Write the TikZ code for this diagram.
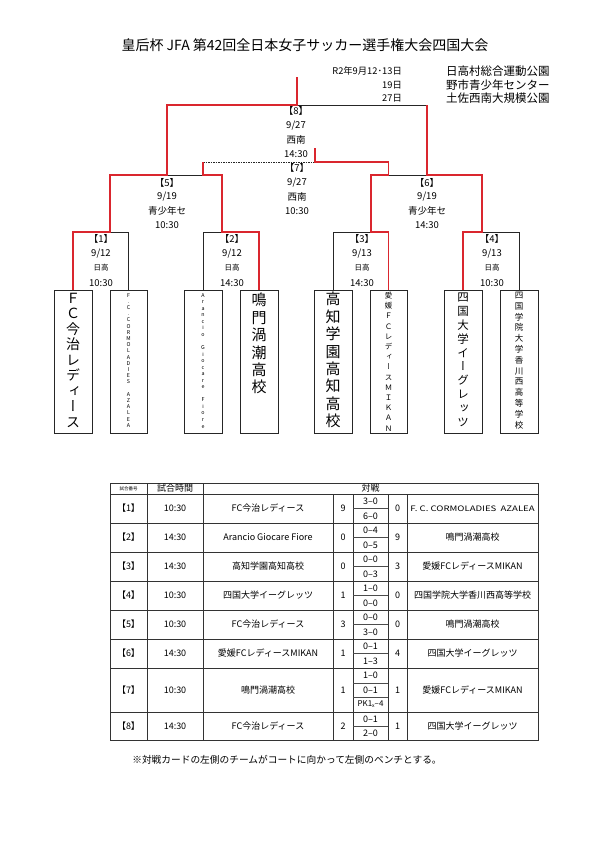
\documentclass[tikz,border=0pt]{standalone}
\usepackage{fontspec}
\setmainfont{Noto Sans CJK JP}
\newfontfamily\vfont[RawFeature=+vert]{Noto Sans CJK JP}
\definecolor{bred}{RGB}{218,38,46}
\newcommand\fs[2]{\fontsize{#1}{#2}\selectfont}
\begin{document}
\begin{tikzpicture}[x=1pt,y=-1pt,
  blk/.style={line width=0.8pt, draw=black!85},
  dsh/.style={line width=0.7pt, draw=black!85, dash pattern=on 1.5pt off 1pt},
  redl/.style={line width=1.7pt, draw=bred},
  teambox/.style={draw=black!85, line width=0.9pt, minimum width=#1, minimum height=143pt, inner sep=0pt},
  vtext/.style={anchor=north, inner sep=0pt, align=center},
  lbl/.style={font=\fs{9.5}{10}, inner sep=0pt},
  cell/.style={font=\fs{9}{10}, inner sep=0pt},
  venue/.style={font=\fs{11.5}{12}, inner sep=0pt, anchor=west},
  vday/.style={font=\fs{9.3}{12}, inner sep=0pt, anchor=east},
  grid/.style={line width=0.7pt, draw=black!80}]
\useasboundingbox[fill=white] (0,0) rectangle (595,841);

% title and venues
\node[font=\fs{14}{15}, inner sep=0pt] (title) at (305,45) {皇后杯 JFA 第42回全日本女子サッカー選手権大会四国大会};
\node[vday] (d1a) at (402,71) {R2年9月12･13日};
\node[venue] (d1b) at (446,71) {日高村総合運動公園};
\node[vday] (d2a) at (402,85) {19日};
\node[venue] (d2b) at (446,85) {野市青少年センター};
\node[vday] (d3a) at (402,98) {27日};
\node[venue] (d3b) at (446,98) {土佐西南大規模公園};

% team boxes
\node[teambox=38pt] (b1) at (73,361.5) {};
\node[teambox=37pt] (b2) at (128.5,361.5) {};
\node[teambox=38pt] (b3) at (203,361.5) {};
\node[teambox=38pt] (b4) at (259,361.5) {};
\node[teambox=38pt] (b5) at (333,361.5) {};
\node[teambox=37pt] (b6) at (388.5,361.5) {};
\node[teambox=38pt] (b7) at (463,361.5) {};
\node[teambox=38pt] (b8) at (519,361.5) {};

\node[vtext, font=\vfont\fs{14}{15.5}] (t1) at (73,293) {Ｆ\\Ｃ\\今\\治\\レ\\デ\\ィ\\ー\\ス};
\node[vtext, font=\fs{5.3}{6.2}] (t2) at (128.5,293) {F\\.\\C\\.\\C\\O\\R\\M\\O\\L\\A\\D\\I\\E\\S\\\mbox{}\\A\\Z\\A\\L\\E\\A};
\node[vtext, font=\fs{5.3}{6.55}] (t3) at (203,293) {A\\r\\a\\n\\c\\i\\o\\\mbox{}\\G\\i\\o\\c\\a\\r\\e\\\mbox{}\\F\\i\\o\\r\\e};
\node[vtext, font=\vfont\fs{15}{17.4}] (t4) at (259,293) {鳴\\門\\渦\\潮\\高\\校};
\node[vtext, font=\vfont\fs{15}{17.4}] (t5) at (333,292) {高\\知\\学\\園\\高\\知\\高\\校};
\node[vtext, font=\vfont\fs{7.5}{10.2}] (t6) at (388.5,292) {愛\\媛\\Ｆ\\Ｃ\\レ\\デ\\ィ\\ー\\ス\\Ｍ\\Ｉ\\Ｋ\\Ａ\\Ｎ};
\node[vtext, font=\vfont\fs{11.5}{13.8}] (t7) at (463,293) {四\\国\\大\\学\\イ\\ー\\グ\\レ\\ッ\\ツ};
\node[vtext, font=\vfont\fs{8.5}{10.8}] (t8) at (519,292) {四\\国\\学\\院\\大\\学\\香\\川\\西\\高\\等\\学\\校};

% bracket coordinates
\coordinate (top8) at (297,77);
\coordinate (j8) at (297,105);
\coordinate (L8) at (167,105);
\coordinate (R8) at (427,105);
\coordinate (j5) at (167,175);
\coordinate (L5) at (110,175);
\coordinate (R5) at (222,175);
\coordinate (m5) at (203,175);
\coordinate (j6) at (427,175);
\coordinate (L6) at (371,175);
\coordinate (R6) at (482,175);
\coordinate (m6) at (388.5,175);
\coordinate (d7L) at (203,162);
\coordinate (d7R) at (315,162);
\coordinate (c7) at (388.5,162);
\coordinate (top7) at (315,148);
\coordinate (j1) at (110,232);
\coordinate (L1) at (73,232);
\coordinate (R1) at (128.5,232);
\coordinate (j2) at (222,232);
\coordinate (L2) at (203,232);
\coordinate (R2) at (259,232);
\coordinate (j3) at (371,232);
\coordinate (L3) at (333,232);
\coordinate (R3) at (388.5,232);
\coordinate (j4) at (482,232);
\coordinate (L4) at (463,232);
\coordinate (R4) at (519,232);

% black (losing) lines
\draw[blk] (j8) -- (R8);
\draw[blk] (j5) -- (m5);
\draw[blk] (m6) -- (j6);
\draw[blk] (j1) -- (R1) -- (b2.north);
\draw[blk] (j2) -- (L2) -- (b3.north);
\draw[blk] (j3) -- (L3) -- (b5.north);
\draw[blk] (j4) -- (R4) -- (b8.north);
\draw[dsh] (d7L) -- (d7R);

% red (winning) lines
\draw[redl] (b1.north) -- (L1) -- (j1) -- (L5) -- (j5) -- (L8) -- (j8) -- (top8);
\draw[redl] (b4.north) -- (R2) -- (j2) -- (R5) -- (m5) -- (d7L);
\draw[redl] (b6.north) -- (R3) -- (j3) -- (L6) -- (m6) -- (c7) -- (d7R) -- (top7);
\draw[redl] (b7.north) -- (L4) -- (j4) -- (R6) -- (j6) -- (R8);

% match labels
\node[lbl] (g8a) at (296,111) {【8】};
\node[lbl] (g8b) at (296,126) {9/27};
\node[lbl] (g8c) at (296,140) {西南};
\node[lbl] (g8d) at (296,154) {14:30};
\node[lbl] (g7a) at (297,168) {【7】};
\node[lbl] (g7b) at (297,183) {9/27};
\node[lbl] (g7c) at (297,197) {西南};
\node[lbl] (g7d) at (297,211) {10:30};
\node[lbl] (g5a) at (167,183) {【5】};
\node[lbl] (g5b) at (167,197) {9/19};
\node[lbl] (g5c) at (167,211) {青少年セ};
\node[lbl] (g5d) at (167,225) {10:30};
\node[lbl] (g6a) at (427,183) {【6】};
\node[lbl] (g6b) at (427,197) {9/19};
\node[lbl] (g6c) at (427,211) {青少年セ};
\node[lbl] (g6d) at (427,225) {14:30};
\node[lbl] (g1a) at (101,239) {【1】};
\node[lbl] (g1b) at (101,254) {9/12};
\node[lbl, font=\fs{7.5}{8}] (g1c) at (101,268) {日高};
\node[lbl] (g1d) at (101,283) {10:30};
\node[lbl] (g2a) at (232,239) {【2】};
\node[lbl] (g2b) at (232,254) {9/12};
\node[lbl, font=\fs{7.5}{8}] (g2c) at (232,268) {日高};
\node[lbl] (g2d) at (232,283) {14:30};
\node[lbl] (g3a) at (362,239) {【3】};
\node[lbl] (g3b) at (362,254) {9/13};
\node[lbl, font=\fs{7.5}{8}] (g3c) at (362,268) {日高};
\node[lbl] (g3d) at (362,283) {14:30};
\node[lbl] (g4a) at (492,239) {【4】};
\node[lbl] (g4b) at (492,254) {9/13};
\node[lbl, font=\fs{7.5}{8}] (g4c) at (492,268) {日高};
\node[lbl] (g4d) at (492,283) {10:30};

% results table grid
\draw[grid] (110,483) rectangle (538,740);
\foreach \yy in {494,523,552,581,610,639,668,712} \draw[grid] (110,\yy) -- (538,\yy);
\foreach \xx in {147,203} \draw[grid] (\xx,483) -- (\xx,740);
\foreach \xx in {333,353,388,407} \draw[grid] (\xx,494) -- (\xx,740);
\foreach \yy in {508.5,537.5,566.5,595.5,624.5,653.5,683,697,726} \draw[line width=0.5pt, draw=black!70] (353,\yy) -- (388,\yy);

% header
\node[inner sep=0pt, font=\fs{4.5}{5}] (h1) at (128.5,488.5) {試合番号};
\node[cell] (h2) at (175,488.5) {試合時間};
\node[cell] (h3) at (370.5,488.5) {対戦};

% row 1
\node[cell] (r1a) at (128.5,508.5) {【1】};
\node[cell] (r1b) at (175,508.5) {10:30};
\node[cell] (r1c) at (268,508.5) {FC今治レディース};
\node[cell] (r1d) at (343,508.5) {9};
\node[cell] (r1e) at (370.5,501.3) {3–0};
\node[cell] (r1f) at (370.5,515.8) {6–0};
\node[cell] (r1g) at (397.5,508.5) {0};
\node[cell, font=\fs{7.5}{8}] (r1h) at (472.5,508.5) {\scalebox{1.28}[1]{F. C. CORMOLADIES\ \ AZALEA}};
% row 2
\node[cell] (r2a) at (128.5,537.5) {【2】};
\node[cell] (r2b) at (175,537.5) {14:30};
\node[cell] (r2c) at (268,537.5) {Arancio Giocare Fiore};
\node[cell] (r2d) at (343,537.5) {0};
\node[cell] (r2e) at (370.5,530.3) {0–4};
\node[cell] (r2f) at (370.5,544.8) {0–5};
\node[cell] (r2g) at (397.5,537.5) {9};
\node[cell] (r2h) at (472.5,537.5) {鳴門渦潮高校};
% row 3
\node[cell] (r3a) at (128.5,566.5) {【3】};
\node[cell] (r3b) at (175,566.5) {14:30};
\node[cell] (r3c) at (268,566.5) {高知学園高知高校};
\node[cell] (r3d) at (343,566.5) {0};
\node[cell] (r3e) at (370.5,559.3) {0–0};
\node[cell] (r3f) at (370.5,573.8) {0–3};
\node[cell] (r3g) at (397.5,566.5) {3};
\node[cell] (r3h) at (472.5,566.5) {愛媛FCレディースMIKAN};
% row 4
\node[cell] (r4a) at (128.5,595.5) {【4】};
\node[cell] (r4b) at (175,595.5) {10:30};
\node[cell] (r4c) at (268,595.5) {四国大学イーグレッツ};
\node[cell] (r4d) at (343,595.5) {1};
\node[cell] (r4e) at (370.5,588.3) {1–0};
\node[cell] (r4f) at (370.5,602.8) {0–0};
\node[cell] (r4g) at (397.5,595.5) {0};
\node[cell] (r4h) at (472.5,595.5) {四国学院大学香川西高等学校};
% row 5
\node[cell] (r5a) at (128.5,624.5) {【5】};
\node[cell] (r5b) at (175,624.5) {10:30};
\node[cell] (r5c) at (268,624.5) {FC今治レディース};
\node[cell] (r5d) at (343,624.5) {3};
\node[cell] (r5e) at (370.5,617.3) {0–0};
\node[cell] (r5f) at (370.5,631.8) {3–0};
\node[cell] (r5g) at (397.5,624.5) {0};
\node[cell] (r5h) at (472.5,624.5) {鳴門渦潮高校};
% row 6
\node[cell] (r6a) at (128.5,653.5) {【6】};
\node[cell] (r6b) at (175,653.5) {14:30};
\node[cell] (r6c) at (268,653.5) {愛媛FCレディースMIKAN};
\node[cell] (r6d) at (343,653.5) {1};
\node[cell] (r6e) at (370.5,646.3) {0–1};
\node[cell] (r6f) at (370.5,660.8) {1–3};
\node[cell] (r6g) at (397.5,653.5) {4};
\node[cell] (r6h) at (472.5,653.5) {四国大学イーグレッツ};
% row 7
\node[cell] (r7a) at (128.5,690) {【7】};
\node[cell] (r7b) at (175,690) {10:30};
\node[cell] (r7c) at (268,690) {鳴門渦潮高校};
\node[cell] (r7d) at (343,690) {1};
\node[cell] (r7e) at (370.5,675.5) {1–0};
\node[cell] (r7f) at (370.5,690) {0–1};
\node[cell, font=\fs{8}{9}] (r7g) at (370.5,704.5) {PK1\raisebox{-1pt}{\fs{5}{6}x}–4};
\node[cell] (r7h) at (397.5,690) {1};
\node[cell] (r7i) at (472.5,690) {愛媛FCレディースMIKAN};
% row 8
\node[cell] (r8a) at (128.5,726) {【8】};
\node[cell] (r8b) at (175,726) {14:30};
\node[cell] (r8c) at (268,726) {FC今治レディース};
\node[cell] (r8d) at (343,726) {2};
\node[cell] (r8e) at (370.5,718.8) {0–1};
\node[cell] (r8f) at (370.5,733.3) {2–0};
\node[cell] (r8g) at (397.5,726) {1};
\node[cell] (r8h) at (472.5,726) {四国大学イーグレッツ};

\node[inner sep=0pt, font=\fs{9.7}{11}] (note) at (287,760) {※対戦カードの左側のチームがコートに向かって左側のベンチとする。};
\end{tikzpicture}
\end{document}
